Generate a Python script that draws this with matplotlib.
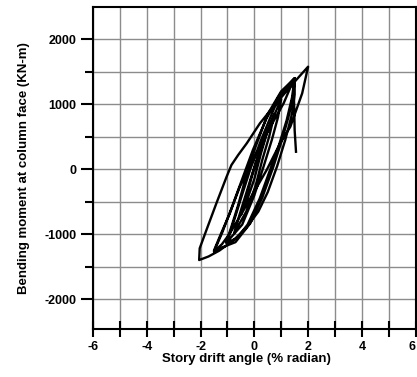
import matplotlib
matplotlib.use("Agg")
import matplotlib.pyplot as plt
import numpy as np

plt.rcParams['font.family'] = ['Liberation Sans', 'DejaVu Sans']

# drift (% radian) and moment (kN-m), branch by branch
drift = [0.0, 0.25, 0.5,
         0.25, 0.0, -0.25, -0.5,
         -0.3, -0.05, 0.3, 0.75,
         0.55, 0.3, 0.05, -0.3, -0.75,
         -0.55, -0.25, 0.05, 0.45, 1.0,
         0.88, 0.65, 0.35, 0.0, -0.45, -1.0,
         -0.8, -0.5, -0.15, 0.25, 0.75, 1.1, 1.5,
         1.4, 1.2, 0.9, 0.55, 0.2, -0.25, -0.65, -1.05,
         -0.85, -0.6, -0.3, 0.05, 0.5, 1.0, 1.5,
         1.45, 1.3, 1.05, 0.7, 0.3, -0.15, -0.7, -1.5,
         -1.25, -0.91, -0.54, -0.04, 0.46, 1.09, 1.46, 1.5,
         1.5, 1.4, 1.15, 0.85, 0.5, 0.15, -0.3, -0.8, -1.3, -1.7, -2.05,
         -2.03, -1.78, -1.41, -1.03, -0.85, -0.6, -0.28, 0.21, 0.71, 1.34, 1.7, 2.0,
         1.78, 1.34, 0.96, 0.46, -0.04, -0.54, -0.91, -1.2, -1.5,
         -1.2, -0.85, -0.45, -0.05, 0.45, 0.95, 1.45,
         1.48, 1.5, 1.55]
moment = [0, 300, 600,
          250, -150, -450, -700,
          -420, -50, 400, 850,
          500, 150, -250, -650, -980,
          -700, -300, 100, 550, 1080,
          800, 450, 50, -400, -850, -1110,
          -850, -450, 0, 450, 950, 1200, 1400,
          1100, 750, 350, -50, -450, -850, -1060, -1130,
          -880, -550, -100, 350, 850, 1200, 1400,
          1150, 850, 480, 30, -430, -830, -1120, -1250,
          -1000, -677, -268, 143, 554, 1015, 1374, 1400,
          1150, 850, 450, 50, -350, -650, -900, -1100, -1250, -1340, -1395,
          -1215, -934, -523, -114, 66, 220, 400, 708, 963, 1271, 1440, 1578,
          1169, 655, 400, -10, -370, -729, -985, -1150, -1265,
          -980, -600, -150, 300, 780, 1150, 1380,
          1000, 600, 270]

x_ticks = [-6, -4, -2, 0, 2, 4, 6]
y_ticks = [-2000, -1000, 0, 1000, 2000]

fig = plt.figure(figsize=(4.17, 3.77), dpi=100)
ax = fig.add_axes([0.2228, 0.1265, 0.7741, 0.8557])

ax.plot(drift, moment, color="black", lw=1.7, solid_joinstyle="round")

ax.set_xlim(-6, 6)
ax.set_ylim(-2460, 2500)
ax.set_xticks(x_ticks)
ax.set_xticks(np.arange(-5, 6, 2), minor=True)
ax.set_yticks(y_ticks)
ax.set_yticks([-1500, -500, 500, 1500], minor=True)
ax.set_xticklabels([str(v) for v in x_ticks], fontweight="bold", fontsize=9)
ax.set_yticklabels([str(v) for v in y_ticks], fontweight="bold", fontsize=9)
# last label sits on the figure edge in the original; keep it inside
ax.get_xticklabels()[-1].set_ha("right")

ax.grid(True, which="both", color="#8c8c8c", lw=1.0)
ax.set_axisbelow(True)
for s in ax.spines.values():
    s.set_linewidth(1.5)

ax.tick_params(axis="x", which="both", direction="inout", length=11, width=1.5, pad=3)
ax.tick_params(axis="y", which="major", direction="out", length=9, width=1.5, pad=3)
ax.tick_params(axis="y", which="minor", direction="out", length=6, width=1.5)

ax.set_xlabel("Story drift angle (% radian)", fontweight="bold", fontsize=9.5)
ax.set_ylabel("Bending moment at column face (KN-m)", fontweight="bold", fontsize=9.5)
ax.xaxis.set_label_coords(0.476, -0.072)
ax.yaxis.set_label_coords(-0.195, 0.5)

fig.savefig("out.png", dpi=100)
